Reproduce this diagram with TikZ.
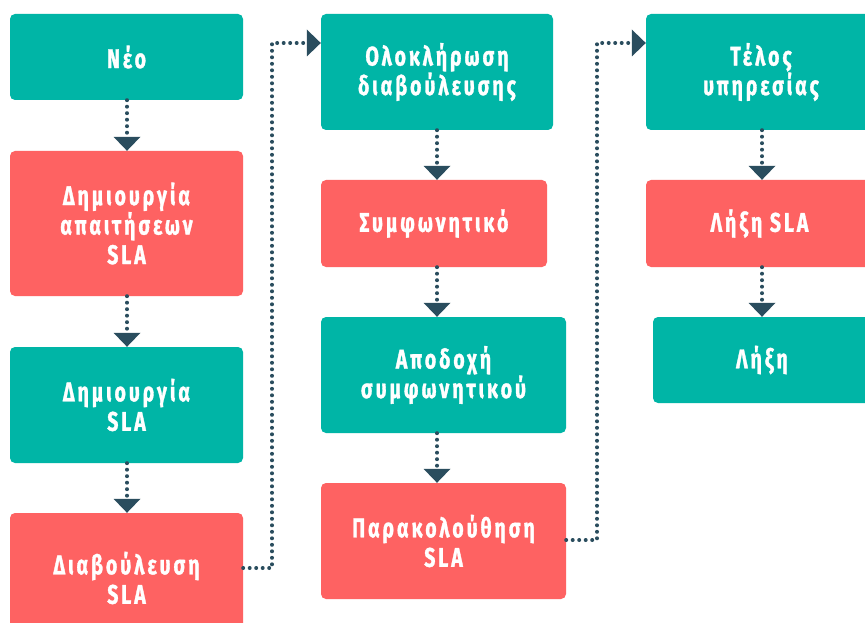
\documentclass[tikz,border=0pt]{standalone}
\usepackage{fontspec}
\setmainfont{Fira Sans}
\newfontfamily\boxfont{Fira Sans}[FakeStretch=0.72,LetterSpace=11,FakeBold=1.2]
\usetikzlibrary{arrows.meta}
\definecolor{tealbox}{HTML}{00B5A6}
\definecolor{redbox}{HTML}{FE6262}
\definecolor{conncol}{HTML}{2A4D5E}
\tikzset{
  box/.style={rounded corners=5pt, inner sep=0pt, align=center,
    text=white, font=\boxfont\bfseries\fontsize{27}{29.5}\selectfont},
  tealstate/.style={box, fill=tealbox},
  redstate/.style={box, fill=redbox},
  conn/.style={draw=conncol, line width=4pt, line cap=round,
    dash pattern=on 0pt off 6.5pt,
    -{Triangle[width=27pt,length=14pt,fill=conncol,line width=0pt]}}
}
\begin{document}
\begin{tikzpicture}[x=1pt,y=-1pt]
\useasboundingbox (0,0) rectangle (865,623);
\clip (0,0) rectangle (865,623);
\fill[white] (0,0) rectangle (865,623);
% column x of arrows
\coordinate (c1x) at (127,0);
\coordinate (c2x) at (437,0);
\coordinate (c3x) at (762,0);
% column 1
\node[tealstate, minimum width=233pt, minimum height=86pt] (neo) at (126.5,57) {Νέο};
\node[redstate, minimum width=233pt, minimum height=145pt] (dap) at (126.5,223.5) {Δημιουργία\\απαιτήσεων\\SLA};
\node[tealstate, minimum width=233pt, minimum height=116pt] (dsla) at (126.5,405) {Δημιουργία\\SLA};
\node[redstate, minimum width=233pt, minimum height=130pt] (diab) at (126.5,578) {Διαβούλευση\\SLA};
% column 2
\node[tealstate, minimum width=232pt, minimum height=116pt] (olok) at (437,72) {Ολοκλήρωση\\διαβούλευσης};
\node[redstate, minimum width=226pt, minimum height=87pt] (symf) at (434,223.5) {Συμφωνητικό};
\node[tealstate, minimum width=245pt, minimum height=116pt] (apod) at (443.5,375) {Αποδοχή\\συμφωνητικού};
\node[redstate, minimum width=245pt, minimum height=116pt] (parak) at (443.5,541) {Παρακολούθηση\\SLA};
% column 3
\node[tealstate, minimum width=230pt, minimum height=116pt] (telos) at (761,72) {Τέλος\\υπηρεσίας};
\node[redstate, minimum width=227pt, minimum height=87pt] (lsla) at (759.5,223.5) {Λήξη SLA};
\node[tealstate, minimum width=218pt, minimum height=86pt] (lixi) at (762,360) {Λήξη};
% vertical arrows
\draw[conn] (neo.south -| c1x) -- (dap.north -| c1x);
\draw[conn] (dap.south -| c1x) -- (dsla.north -| c1x);
\draw[conn] (dsla.south -| c1x) -- (diab.north -| c1x);
\draw[conn] (olok.south -| c2x) -- (symf.north -| c2x);
\draw[conn] (symf.south -| c2x) -- (apod.north -| c2x);
\draw[conn] (apod.south -| c2x) -- (parak.north -| c2x);
\draw[conn] (telos.south -| c3x) -- (lsla.north -| c3x);
\draw[conn] (lsla.south -| c3x) -- (lixi.north -| c3x);
% long connectors
\coordinate (j1) at (272,568);
\coordinate (j1t) at (272,43);
\coordinate (j2) at (597,540);
\coordinate (j2t) at (597,43);
\draw[conn] (diab.east |- j1) -- (j1) -- (j1t) -- (olok.west |- j1t);
\draw[conn] (parak.east |- j2) -- (j2) -- (j2t) -- (telos.west |- j2t);
\end{tikzpicture}
\end{document}
